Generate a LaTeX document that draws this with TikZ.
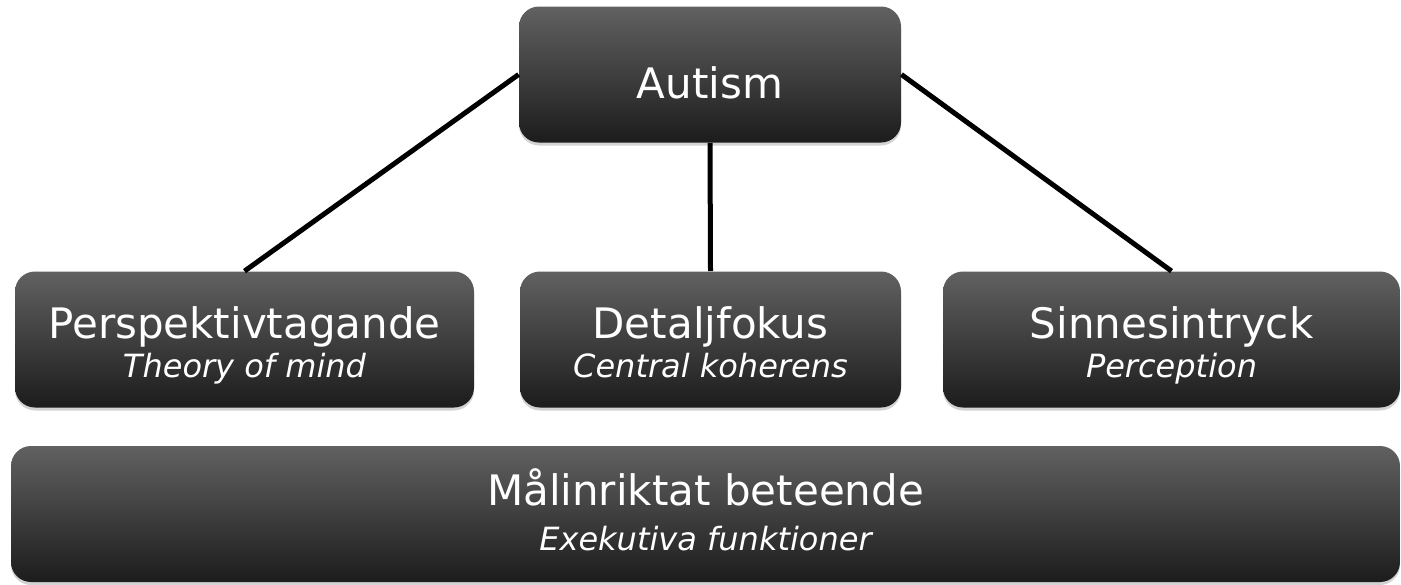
\documentclass[tikz,border=0pt]{standalone}
\usepackage{fontspec}
\setmainfont{DejaVu Sans}
\usetikzlibrary{positioning,shadows}
\begin{document}
\begin{tikzpicture}[x=0.5pt, y=-0.5pt,
    main/.style = {rounded corners=10pt, top color=black!62, bottom color=black!89,
        drop shadow={opacity=0.35, shadow xshift=0pt, shadow yshift=-1.5pt},
        minimum height=68pt, inner sep=0pt},
    title/.style = {text=white, anchor=base, inner sep=0pt, font=\fontsize{21}{25}\selectfont},
    sub/.style = {text=white, anchor=base, inner sep=0pt, font=\fontsize{16}{19}\itshape\selectfont},
    link/.style = {line width=2.5pt, black}]
    \useasboundingbox (0,0) rectangle (1401,584);

    \node[main, minimum width=191pt] (a) at (710,74.5) {};
    \node[main, minimum width=229.5pt] (p) at (244.5,339.5) {};
    \node[main, minimum width=190.5pt] (d) at (710.5,339.5) {};
    \node[main, minimum width=228.5pt] (s) at (1171.5,339.5) {};
    \node[main, minimum width=694.5pt] (m) at (705.5,514) {};

    \node[title] (at) at ([yshift=-11.75pt]a.center) {Autism};
    \node[title] (pt) at ([yshift=0.75pt]p.center) {Perspektivtagande};
    \node[sub] (ps) at ([yshift=-18.75pt]p.center) {Theory of mind};
    \node[title] (dt) at ([yshift=0.75pt]d.center) {Detaljfokus};
    \node[sub] (ds) at ([yshift=-18.75pt]d.center) {Central koherens};
    \node[title] (st) at ([yshift=0.75pt]s.center) {Sinnesintryck};
    \node[sub] (ss) at ([yshift=-18.75pt]s.center) {Perception};
    \node[title] (mt) at ([yshift=4.5pt]m.center) {Målinriktat beteende};
    \node[sub] (ms) at ([yshift=-18pt]m.center) {Exekutiva funktioner};

    \draw[link] (a.west) -- (p.north);
    \draw[link] (a.south) -- (d.north);
    \draw[link] (a.east) -- (s.north);

\end{tikzpicture}
\end{document}
